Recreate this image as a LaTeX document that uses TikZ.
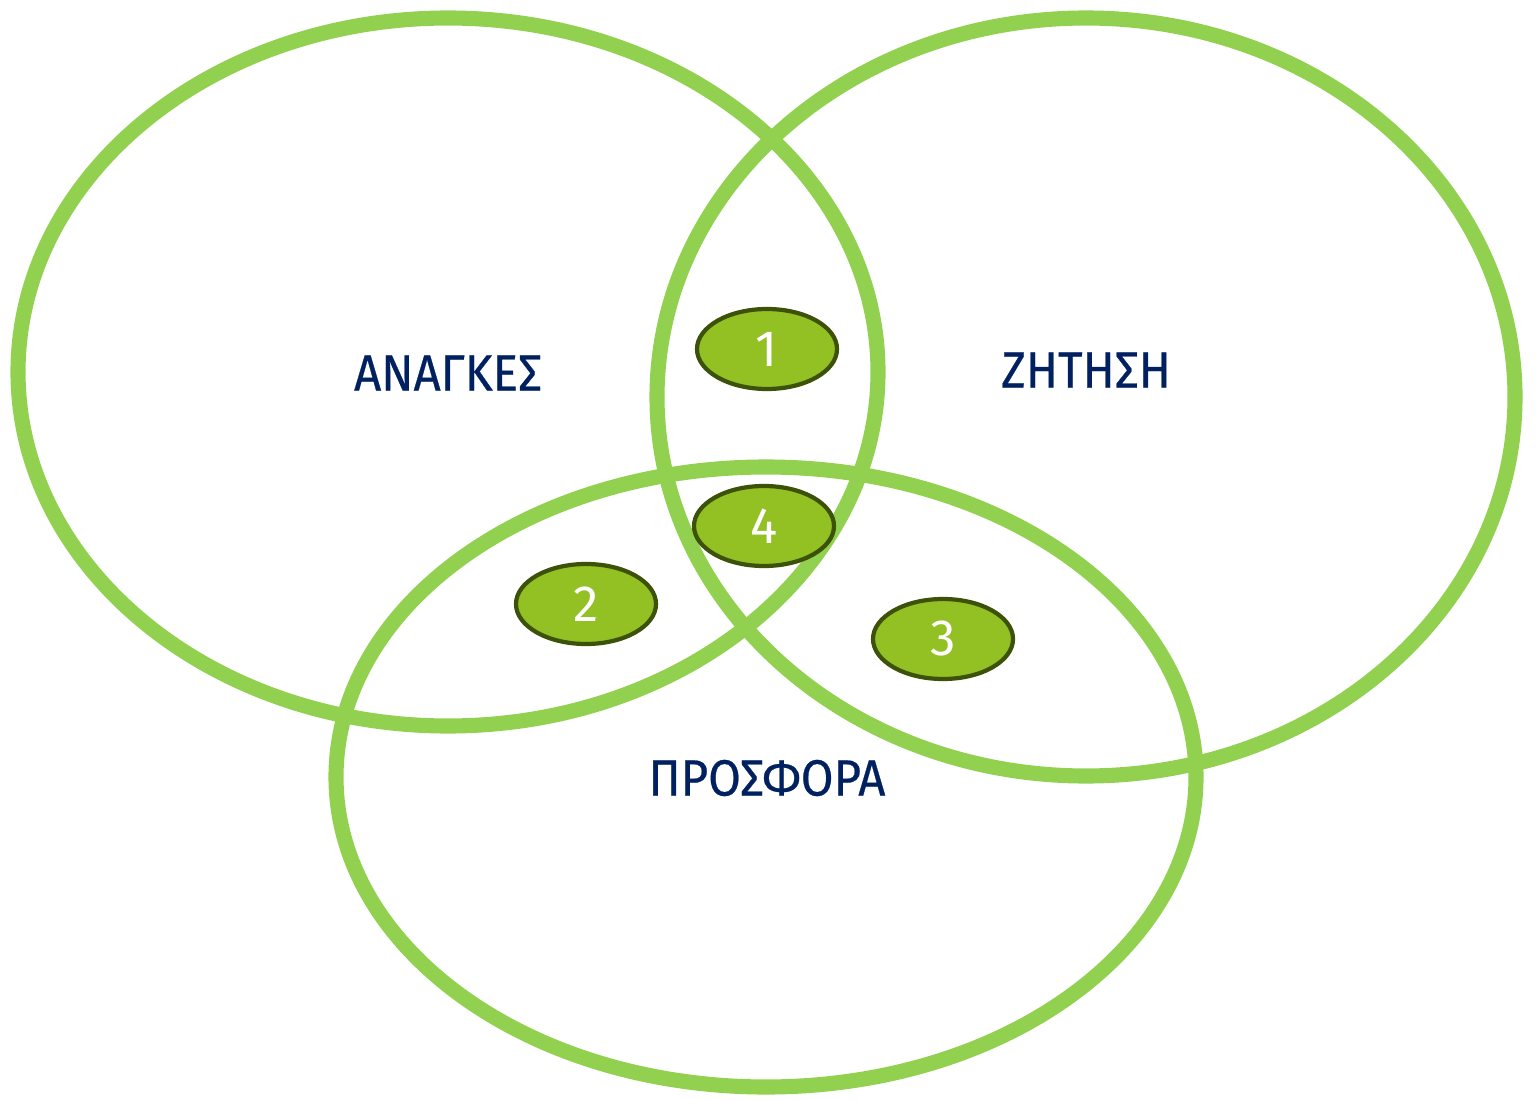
\documentclass[tikz,border=0pt]{standalone}
\usepackage{fontspec}
\setmainfont{Fira Sans}
\newfontfamily\setfont[FakeBold=0.5,FakeStretch=0.93]{Fira Sans}
\usetikzlibrary{shapes.geometric}

\definecolor{ringgreen}{HTML}{92D050}
\definecolor{dotgreen}{HTML}{93C022}
\definecolor{dotedge}{HTML}{3D5209}
\definecolor{labelblue}{HTML}{002060}

\tikzset{
	ring/.style={draw=ringgreen, line width=4.3pt, ellipse, inner sep=0pt},
	setname/.style={text=labelblue, font=\setfont\fontsize{14.5}{16}\selectfont},
	zone/.style={ellipse, draw=dotedge, fill=dotgreen, line width=1.2pt, inner sep=0pt,
		minimum width=1.40cm, minimum height=0.80cm, text=white,
		font=\fontsize{14.5}{16}\selectfont},
}

\begin{document}
\begin{tikzpicture}
		\useasboundingbox (0,0) rectangle (15.36,10.99);
		%the three sets
		\node[ring, minimum width=8.60cm, minimum height=7.08cm] (anagkes) at (4.48,7.27) {};
		\node[ring, minimum width=8.58cm, minimum height=7.58cm] (zitisi) at (10.86,7.02) {};
		\node[ring, minimum width=8.60cm, minimum height=6.20cm] (prosfora) at (7.66,3.22) {};
		
		\node[setname] (anagkeslabel) at (4.48,7.26) {ΑΝΑΓΚΕΣ};
		\node[setname] (zitisilabel) at (10.86,7.29) {ΖΗΤΗΣΗ};
		\node[setname] (prosforalabel) at (7.67,3.21) {ΠΡΟΣΦΟΡΑ};
		
		%overlap zones
		\node[zone] (z1) at (7.67,7.50) {1};
		\node[zone] (z4) at (7.64,5.73) {4};
		\node[zone] (z2) at (5.86,4.95) {2};
		\node[zone] (z3) at (9.43,4.60) {3};
\end{tikzpicture}
\end{document}
